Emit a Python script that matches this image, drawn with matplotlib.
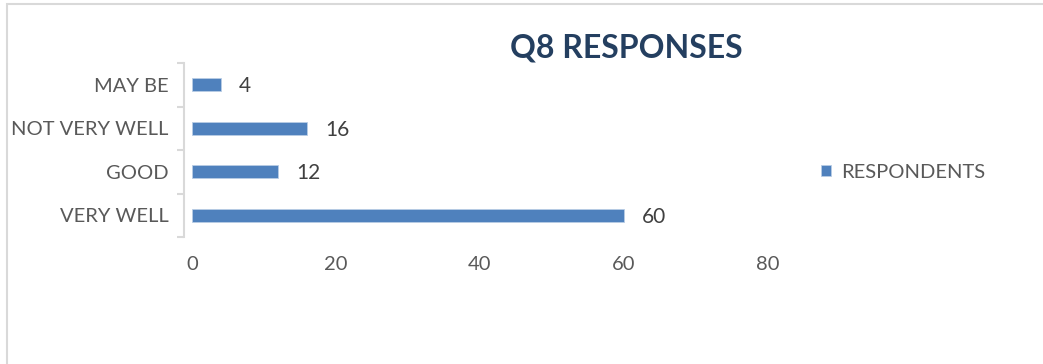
import matplotlib
matplotlib.use("Agg")
import matplotlib.pyplot as plt
from matplotlib.patches import Rectangle

# -----------------------------
# Data
# -----------------------------
categories = ["VERY WELL", "GOOD", "NOT VERY WELL", "MAY BE"]
respondents = [60, 12, 16, 4]
x_ticks = [0, 20, 40, 60, 80]
series_name = "RESPONDENTS"
chart_title = "Q8 RESPONSES"

BAR_COLOR = "#4F81BD"
TEXT_GREY = "#595959"
AXIS_GREY = "#D9D9D9"

plt.rcParams['font.family'] = ['Lato', 'DejaVu Sans']

# -----------------------------
# Plot
# -----------------------------
W, H = 1043, 364
fig = plt.figure(figsize=(W / 100, H / 100), dpi=100)

# outer chart frame
fig.patches.append(Rectangle((7 / W, -0.1), 1.2, 1.1 - 4 / H,
                             transform=fig.transFigure, fill=False,
                             edgecolor=AXIS_GREY, linewidth=1.5))

ax = fig.add_axes([192 / W, 1 - 237 / H, 576 / W, 174 / H])
ypos = list(range(len(categories)))
ax.barh(ypos, respondents, height=0.3, color=BAR_COLOR,
        edgecolor="#B9CDE5", linewidth=0.6, label=series_name)

ax.set_xlim(0, 80)
ax.set_ylim(-0.5, len(categories) - 0.5)

# value labels next to each bar
for y, v in zip(ypos, respondents):
    ax.annotate(str(v), xy=(v, y), xytext=(13, -1), textcoords="offset points",
                ha="left", va="center", fontsize=15, color="#404040")

# axes styling
for side in ["top", "right", "bottom"]:
    ax.spines[side].set_visible(False)
ax.spines["left"].set_color(AXIS_GREY)
ax.spines["left"].set_linewidth(1.5)
ax.spines["left"].set_position(("outward", 6))

ax.set_yticks(ypos)
ax.set_yticklabels(categories)
ax.set_yticks([i - 0.5 for i in range(len(categories) + 1)], minor=True)
ax.tick_params(axis="y", which="major", length=0, pad=11, labelsize=14.5,
               labelcolor=TEXT_GREY)
ax.tick_params(axis="y", which="minor", length=5, width=1.5, color=AXIS_GREY)

ax.set_xticks(x_ticks)
ax.tick_params(axis="x", length=0, pad=14, labelsize=14.5, labelcolor=TEXT_GREY)

fig.text(626 / W, 1 - 48 / H, chart_title, ha="center", va="center",
         fontsize=23, fontweight="bold", color="#243F60")

leg = fig.legend(loc="center left", bbox_to_anchor=(803 / W, 1 - 172 / H),
                 frameon=False, fontsize=14.5, handlelength=0.5,
                 handleheight=0.5, handletextpad=0.5)
for t in leg.get_texts():
    t.set_color(TEXT_GREY)

fig.savefig("out.png", dpi=100)
